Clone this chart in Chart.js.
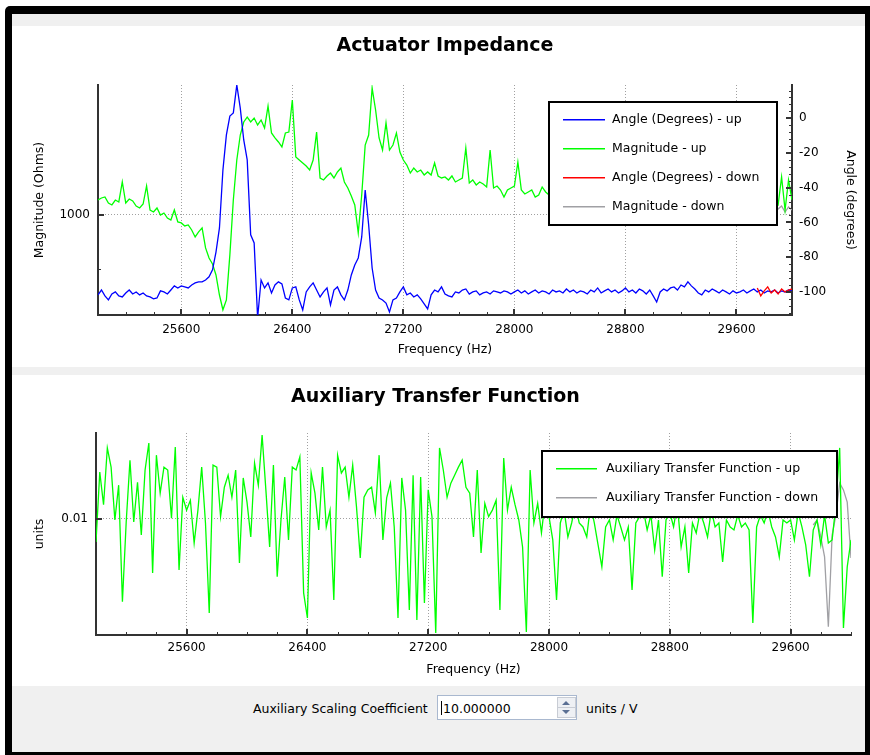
<!DOCTYPE html>
<html>
<head>
<meta charset="utf-8">
<title>Actuator Impedance</title>
<script src="https://cdn.jsdelivr.net/npm/chart.js@4.4.1/dist/chart.umd.min.js"></script>
<style>
  html, body { margin: 0; padding: 0; background: #fff; }
  body { width: 870px; height: 755px; position: relative; overflow: hidden; font-family: 'DejaVu Sans', sans-serif; }
  .abs { position: absolute; }
  #frame { left: 5px; top: 6px; width: 865px; height: 749px; background: #000; border-radius: 5px 0 0 0; }
  #inner { left: 12px; top: 14px; width: 853px; height: 738px; background: #f0f0f0; }
  .panel { left: 12px; width: 853px; background: #fff; }
  #p1 { top: 26px; height: 341px; }
  #p2 { top: 375px; height: 311px; }
  canvas { position: absolute; left: 20px; }
  #c1 { top: 26px; }
  #c2 { top: 375px; }
  .ctl { font-size: 12.5px; color: #000; top: 700px; line-height: 18px; white-space: nowrap; }
  #coefBox { left: 437px; top: 695px; width: 140px; height: 25px; box-sizing: border-box; border: 1px solid #a9b8cf; background: #fff; }
  #coefText { left: 443px; }
  #caret { left: 441px; top: 701px; width: 1px; height: 14px; background: #000; }
  #spin { left: 557px; top: 697px; width: 19px; height: 21px; box-sizing: border-box; border: 1px solid #c8ccd4; background: #eef0f4; }
  .arrowUp { left: 562px; top: 701px; width: 0; height: 0; border-left: 4px solid transparent; border-right: 4px solid transparent; border-bottom: 4px solid #5a6f93; }
  .arrowDown { left: 562px; top: 710px; width: 0; height: 0; border-left: 4px solid transparent; border-right: 4px solid transparent; border-top: 4px solid #5a6f93; }
  #spinSep { left: 558px; top: 707px; width: 17px; height: 1px; background: #c8ccd4; }
</style>
</head>
<body>
<div id="frame" class="abs"></div>
<div id="inner" class="abs"></div>
<div id="p1" class="abs panel"></div>
<div id="p2" class="abs panel"></div>
<canvas id="c1" width="850" height="341"></canvas>
<canvas id="c2" width="850" height="311"></canvas>

<div class="abs ctl" style="left:253px">Auxiliary Scaling Coefficient</div>
<div id="coefBox" class="abs"></div>
<div id="coefText" class="abs ctl">10.000000</div>
<div id="caret" class="abs"></div>
<div id="spin" class="abs"></div>
<div id="spinSep" class="abs"></div>
<div class="abs arrowUp"></div>
<div class="abs arrowDown"></div>
<div class="abs ctl" style="left:586px">units / V</div>

<script>
// sweep frequencies (Hz)
const freqUp = [
  25000,25025,25050,25075,25100,25125,25150,25175,25200,25225,
  25250,25275,25300,25325,25350,25375,25400,25425,25450,25475,
  25500,25525,25550,25575,25600,25625,25650,25675,25700,25725,
  25750,25775,25800,25825,25850,25875,25900,25925,25950,25975,
  26000,26025,26050,26075,26100,26125,26150,26175,26200,26225,
  26250,26275,26300,26325,26350,26375,26400,26425,26450,26475,
  26500,26525,26550,26575,26600,26625,26650,26675,26700,26725,
  26750,26775,26800,26825,26850,26875,26900,26925,26950,26975,
  27000,27025,27050,27075,27100,27125,27150,27175,27200,27225,
  27250,27275,27300,27325,27350,27375,27400,27425,27450,27475,
  27500,27525,27550,27575,27600,27625,27650,27675,27700,27725,
  27750,27775,27800,27825,27850,27875,27900,27925,27950,27975,
  28000,28025,28050,28075,28100,28125,28150,28175,28200,28225,
  28250,28275,28300,28325,28350,28375,28400,28425,28450,28475,
  28500,28525,28550,28575,28600,28625,28650,28675,28700,28725,
  28750,28775,28800,28825,28850,28875,28900,28925,28950,28975,
  29000,29025,29050,29075,29100,29125,29150,29175,29200,29225,
  29250,29275,29300,29325,29350,29375,29400,29425,29450,29475,
  29500,29525,29550,29575,29600,29625,29650,29675,29700,29725,
  29750,29775,29800,29825,29850,29875,29900,29925,29950,29975,
  30000
];
const freqDown = [29750,29775,29800,29825,29850,29875,29900,29925,29950,29975,30000];

// impedance magnitude (Ohms)
const magnitudeUp = [
  1212,1244,1260,1166,1137,1212,1182,1528,1166,1228,
  1197,1122,1094,1151,1451,1066,1039,1094,1000,1026,
  962,938,1066,914,903,869,880,825,754,805,
  847,655,576,533,463,358,296,336,599,1212,
  2025,2792,3300,3516,3300,3471,3175,3385,3054,4050,
  2865,2688,2553,2394,2865,2900,4375,2106,2025,1949,
  1874,1781,2025,2900,1608,1567,1650,1714,1608,1737,
  1827,1528,1414,1277,1137,794,1293,2455,2792,5103,
  3849,2688,2303,3260,2303,2455,2865,2245,2025,1899,
  1714,1827,1737,1781,1671,1737,1671,1949,1650,1608,
  1629,1567,1650,1528,1567,1608,2362,1508,1567,1470,
  1528,1489,1433,2303,1414,1451,1378,1260,1378,1414,
  1451,1974,1378,1310,1344,1378,1260,1293,1433,1344,
  1293,1378,1310,1260,1361,1327,1277,1378,1310,1344,
  1244,1327,1361,1293,1260,1344,1310,1378,1277,1327,
  1293,1361,1260,1310,1344,1277,1378,1293,1327,1244,
  1344,1310,1361,1277,1327,1293,1260,1344,1310,1378,
  1277,1327,1293,1344,1244,1310,1361,1277,1327,1293,
  1344,1260,1310,1378,1277,1327,1293,1344,1260,1310,
  1277,1327,1244,1293,1212,1166,1137,1629,1066,1567,
  1212
];
const magnitudeDown = [1108,1137,1066,1122,1094,1151,1080,1122,1039,1108,1066];

// impedance phase (degrees)
const angleUp = [
  -101.8,-99.0,-102.4,-104.7,-101.3,-100.1,-102.4,-103.0,-100.7,-99.0,
  -101.3,-100.1,-101.8,-100.7,-102.4,-103.0,-104.1,-103.6,-99.5,-100.1,
  -101.3,-99.0,-96.6,-97.8,-96.6,-97.2,-97.8,-96.1,-94.9,-94.3,
  -94.3,-93.2,-91.4,-87.4,-77.1,-63.2,-29.8,-9.6,1.3,3.1,
  19.2,5.9,-12.5,-24.0,-67.2,-71.9,-115,-93.2,-97.8,-94.9,
  -100.7,-96.1,-94.3,-95.5,-103.6,-104.7,-97.8,-97.2,-104.7,-110.5,
  -100.1,-97.2,-94.9,-99.0,-103.0,-100.1,-97.8,-107.6,-99.0,-97.2,
  -101.8,-104.7,-99.0,-90.3,-84.6,-80.5,-68.4,-41.3,-61.5,-86.3,
  -99.0,-103.6,-104.7,-106.5,-111.6,-104.7,-103.6,-100.1,-97.2,-101.8,
  -100.7,-103.0,-101.8,-104.1,-107.0,-109.9,-101.8,-99.0,-100.1,-97.2,
  -101.3,-102.4,-103.0,-100.1,-100.7,-99.0,-98.4,-101.3,-100.1,-99.5,
  -101.8,-100.7,-100.1,-101.3,-99.5,-100.1,-100.7,-99.5,-100.1,-101.3,
  -100.1,-99.0,-100.7,-99.5,-101.3,-100.1,-99.0,-100.7,-99.5,-100.1,
  -101.3,-99.0,-100.1,-99.5,-100.7,-98.4,-100.1,-99.0,-100.7,-99.5,
  -100.1,-101.3,-99.0,-100.1,-97.8,-100.7,-99.5,-98.4,-100.1,-99.0,
  -100.7,-99.5,-97.8,-100.1,-99.0,-100.7,-98.4,-99.5,-101.3,-99.0,
  -102.4,-105.9,-100.1,-98.4,-99.5,-97.8,-97.2,-99.0,-96.1,-97.2,
  -94.3,-96.6,-98.4,-100.7,-101.8,-99.0,-100.1,-98.4,-99.5,-100.7,
  -99.0,-100.1,-101.3,-99.5,-100.7,-100.1,-99.0,-100.7,-99.5,-98.4,
  -100.1,-99.0,-100.7,-99.5,-100.1,-99.0,-100.7,-99.5,-100.1,-99.0,
  -99.5
];
const angleDown = [-97.8,-102.4,-99.5,-97.2,-100.7,-99.0,-101.3,-98.4,-100.1,-99.0,-98.4];

// auxiliary transfer function (units)
const auxUp = [
  0.00745,0.0182,0.0120,0.0248,0.0194,0.00987,0.0154,0.00347,0.00962,0.0212,
  0.00962,0.0160,0.00815,0.0187,0.0264,0.00502,0.0226,0.0139,0.0194,0.0187,
  0.0101,0.0251,0.00521,0.0132,0.0112,0.0127,0.00736,0.0112,0.0194,0.00950,
  0.00301,0.0199,0.0194,0.0103,0.0150,0.0175,0.0132,0.0187,0.00570,0.0169,
  0.0124,0.00795,0.0204,0.0154,0.0292,0.0145,0.00699,0.0199,0.00478,0.00987,
  0.0171,0.00765,0.0194,0.0187,0.0221,0.00389,0.00282,0.0180,0.0139,0.00869,
  0.0194,0.00903,0.0112,0.00355,0.0226,0.0180,0.0194,0.0132,0.0199,0.0117,
  0.00608,0.0132,0.0145,0.0150,0.0108,0.0226,0.00765,0.0131,0.0158,0.00903,
  0.00282,0.0169,0.0112,0.00313,0.0175,0.00275,0.0171,0.00342,0.0145,0.0103,
  0.00233,0.0248,0.0187,0.0132,0.0158,0.0175,0.0194,0.0212,0.0150,0.0139,
  0.00795,0.0187,0.00648,0.0122,0.0103,0.0112,0.0127,0.00313,0.0218,0.0112,
  0.0150,0.0120,0.00987,0.00699,0.00236,0.0187,0.00950,0.0122,0.00836,0.0127,
  0.0103,0.00765,0.00355,0.00950,0.0112,0.00795,0.00950,0.0120,0.00950,0.00903,
  0.00795,0.0120,0.00950,0.00718,0.00542,0.00903,0.00987,0.00765,0.0105,0.00903,
  0.00765,0.00903,0.00404,0.00950,0.0103,0.0112,0.00869,0.0105,0.00673,0.00987,
  0.00478,0.00987,0.0109,0.00903,0.0120,0.00699,0.00903,0.00502,0.00950,0.00836,
  0.0109,0.00950,0.00795,0.0112,0.00903,0.00950,0.00577,0.00987,0.00903,0.00869,
  0.0105,0.00903,0.00950,0.00869,0.00265,0.00903,0.0105,0.00950,0.0112,0.00903,
  0.00795,0.00616,0.00987,0.00950,0.00987,0.00765,0.0109,0.00903,0.00718,0.00478,
  0.00869,0.00987,0.00718,0.0105,0.00736,0.00765,0.0120,0.0248,0.00248,0.00542,
  0.00765
];
const auxDown = [0.00926,0.00987,0.00795,0.00616,0.00252,0.00815,0.0105,0.0158,0.0145,0.0124,0.00608];

// axis ticks
const freqTicks = [25600, 26400, 27200, 28000, 28800, 29600];
const freqMinorTicks = [25200,25400,25800,26000,26200,26600,26800,27000,27400,27600,27800,
  28200,28400,28600,29000,29200,29400,29800,30000];
const magTicks = [1000];
const magMinorTicks = [500];
const angleTicks = [-100, -80, -60, -40, -20, 0];
const angleMinorTicks = [16,12,8,4,-4,-8,-12,-16,-24,-28,-32,-36,-44,-48,-52,-56,
  -64,-68,-72,-76,-84,-88,-92,-96,-104,-108,-112];
const auxTicks = [0.01];

const FONT = "'DejaVu Sans', sans-serif";

// colours of the curves
const BLUE = 'rgb(0, 0, 255)';
const GREEN = 'rgb(0, 255, 0)';
const RED = 'rgb(255, 0, 0)';
const GRAY = 'rgb(160, 160, 164)';

function points(xs, ys) {
  return xs.map((x, i) => ({ x: x, y: ys[i] }));
}

function fixedTicks(values) {
  return function(scale) {
    scale.ticks = values.map(v => ({ value: v }));
  };
}

// short tick marks drawn inside the plot (like Qwt)
const innerTicks = {
  id: 'innerTicks',
  afterDraw(chart, args, opts) {
    const ctx = chart.ctx;
    const area = chart.chartArea;
    ctx.save();
    ctx.strokeStyle = '#333';
    Object.keys(opts.scales || {}).forEach(id => {
      const s = chart.scales[id];
      const cfg = opts.scales[id];
      const mark = (v, len, w) => {
        ctx.lineWidth = w;
        let p = Math.round(s.getPixelForValue(v));
        if (w % 2 === 1) p += 0.5;
        ctx.beginPath();
        if (s.isHorizontal()) {
          ctx.moveTo(p, area.bottom);
          ctx.lineTo(p, area.bottom - len);
        } else if (s.position === 'left') {
          ctx.moveTo(area.left, p);
          ctx.lineTo(area.left + len, p);
        } else {
          ctx.moveTo(area.right, p);
          ctx.lineTo(area.right - len, p);
        }
        ctx.stroke();
      };
      (cfg.minor || []).forEach(v => mark(v, 3, 1));
      (cfg.major || []).forEach(v => mark(v, 6, 2));
    });
    ctx.restore();
  }
};

// framed legend placed inside the plot area
const boxLegend = {
  id: 'boxLegend',
  afterDatasetsDraw(chart, args, o) {
    if (!o || !o.width) return;
    const ctx = chart.ctx;
    const x = chart.chartArea.left + o.left;
    const y = chart.chartArea.top + o.top;
    ctx.save();
    ctx.fillStyle = '#fff';
    ctx.fillRect(x, y, o.width, o.height);
    ctx.strokeStyle = '#000';
    ctx.lineWidth = 2;
    ctx.strokeRect(x, y, o.width, o.height);
    ctx.font = '12.5px ' + FONT;
    ctx.textBaseline = 'middle';
    const metas = chart.data.datasets.map((ds, i) => chart.getDatasetMeta(i));
    metas.forEach((meta, i) => {
      const ds = chart.data.datasets[i];
      const cy = Math.round(y + o.firstRow + i * o.rowHeight);
      ctx.fillStyle = o.colors[i];
      ctx.fillRect(x + o.lineStart, cy - 1, o.lineLen, 1.5);
      ctx.fillStyle = '#000';
      ctx.fillText(ds.label, x + o.textStart, cy);
    });
    ctx.restore();
  }
};

function lineSet(label, data, color, axis, order) {
  return {
    label: label,
    data: data,
    borderColor: color,
    backgroundColor: color,
    borderWidth: 1.3,
    pointRadius: 0,
    tension: 0,
    yAxisID: axis,
    order: order
  };
}

function freqScale(height, labelPad, titlePad) {
  return {
    type: 'linear',
    position: 'bottom',
    min: 25000,
    max: 30000,
    afterBuildTicks: fixedTicks(freqTicks),
    afterFit: s => { s.height = height; },
    grid: { color: '#a0a0a0', lineWidth: 1, drawTicks: false },
    border: { display: true, color: '#333', width: 2, dash: [1, 2] },
    ticks: { color: '#000', font: { family: FONT, size: 12 }, padding: labelPad, maxRotation: 0,
      callback: v => String(v) },
    title: { display: true, text: 'Frequency (Hz)', color: '#000',
      font: { family: FONT, size: 12.5 }, padding: { top: 0, bottom: titlePad } }
  };
}

// upper chart: impedance magnitude and phase
function initImpedanceChart() {
  const ctx = document.getElementById('c1').getContext('2d');
  return new Chart(ctx, {
    type: 'line',
    data: {
      datasets: [
        lineSet('Angle (Degrees) - up', points(freqUp, angleUp), BLUE, 'yAngle', 1),
        lineSet('Magnitude - up', points(freqUp, magnitudeUp), GREEN, 'yMag', 2),
        lineSet('Angle (Degrees) - down', points(freqDown, angleDown), RED, 'yAngle', 0),
        lineSet('Magnitude - down', points(freqDown, magnitudeDown), GRAY, 'yMag', 3)
      ]
    },
    options: {
      responsive: false,
      devicePixelRatio: 1,
      animation: false,
      events: [],
      layout: { padding: 0 },
      plugins: {
        legend: { display: false },
        tooltip: { enabled: false },
        title: {
          display: true,
          text: 'Actuator Impedance',
          color: '#000',
          font: { family: FONT, size: 19, weight: 'bold' },
          padding: { top: 8.6, bottom: 27.6 }
        },
        boxLegend: { left: 451, top: 17, width: 228, height: 123, firstRow: 18, rowHeight: 29,
          lineStart: 14, lineLen: 42, textStart: 63, colors: [BLUE, GREEN, RED, GRAY] },
        innerTicks: {
          scales: {
            x: { major: freqTicks, minor: freqMinorTicks },
            yMag: { major: magTicks, minor: magMinorTicks },
            yAngle: { major: angleTicks, minor: angleMinorTicks }
          }
        }
      },
      scales: {
        x: freqScale(52, 8, 9.5),
        yMag: {
          type: 'logarithmic',
          position: 'left',
          min: 277,
          max: 5305,
          afterBuildTicks: fixedTicks(magTicks),
          afterFit: s => { s.width = 78; },
          grid: { color: '#a0a0a0', lineWidth: 1, drawTicks: false },
          border: { display: true, color: '#333', width: 2, dash: [1, 2] },
          ticks: { color: '#000', font: { family: FONT, size: 12 }, padding: 8, callback: v => String(v) },
          title: { display: true, text: 'Magnitude (Ohms)', color: '#000',
            font: { family: FONT, size: 12.5 }, padding: { top: 12.5, bottom: 0 } }
        },
        yAngle: {
          type: 'linear',
          position: 'right',
          min: -113.4,
          max: 19.2,
          afterBuildTicks: fixedTicks(angleTicks),
          afterFit: s => { s.width = 78; },
          grid: { display: false, drawTicks: false },
          border: { display: true, color: '#333', width: 2 },
          ticks: { color: '#000', font: { family: FONT, size: 12 }, padding: 7, callback: v => String(v) },
          title: { display: true, text: 'Angle (degrees)', color: '#000',
            font: { family: FONT, size: 12.5 }, padding: { top: 12.5, bottom: 0 } }
        }
      }
    },
    plugins: [innerTicks, boxLegend]
  });
}

// lower chart: auxiliary transfer function
function initAuxChart() {
  const ctx = document.getElementById('c2').getContext('2d');
  return new Chart(ctx, {
    type: 'line',
    data: {
      datasets: [
        lineSet('Auxiliary Transfer Function - up', points(freqUp, auxUp), GREEN, 'y', 1),
        lineSet('Auxiliary Transfer Function - down', points(freqDown, auxDown), GRAY, 'y', 2)
      ]
    },
    options: {
      responsive: false,
      devicePixelRatio: 1,
      animation: false,
      events: [],
      layout: { padding: { left: 0, top: 0, bottom: 0, right: 19 } },
      plugins: {
        legend: { display: false },
        tooltip: { enabled: false },
        title: {
          display: true,
          text: 'Auxiliary Transfer Function',
          color: '#000',
          font: { family: FONT, size: 19, weight: 'bold' },
          padding: { top: 10.3, bottom: 24.9 }
        },
        boxLegend: { left: 446, top: 18, width: 295, height: 66, firstRow: 18, rowHeight: 29,
          lineStart: 14, lineLen: 41, textStart: 64, colors: [GREEN, GRAY] },
        innerTicks: {
          scales: {
            x: { major: freqTicks, minor: freqMinorTicks },
            y: { major: auxTicks, minor: [] }
          }
        }
      },
      scales: {
        x: freqScale(51, 6, 8.5),
        y: {
          type: 'logarithmic',
          position: 'left',
          min: 0.00227,
          max: 0.0300,
          afterBuildTicks: fixedTicks(auxTicks),
          afterFit: s => { s.width = 76; },
          grid: { color: '#a0a0a0', lineWidth: 1, drawTicks: false },
          border: { display: true, color: '#333', width: 2, dash: [1, 2] },
          ticks: { color: '#000', font: { family: FONT, size: 12 }, padding: 8, callback: v => String(v) },
          title: { display: true, text: 'units', color: '#000',
            font: { family: FONT, size: 12.5 }, padding: { top: 12.5, bottom: 0 } }
        }
      }
    },
    plugins: [innerTicks, boxLegend]
  });
}

initImpedanceChart();
initAuxChart();
</script>
</body>
</html>
